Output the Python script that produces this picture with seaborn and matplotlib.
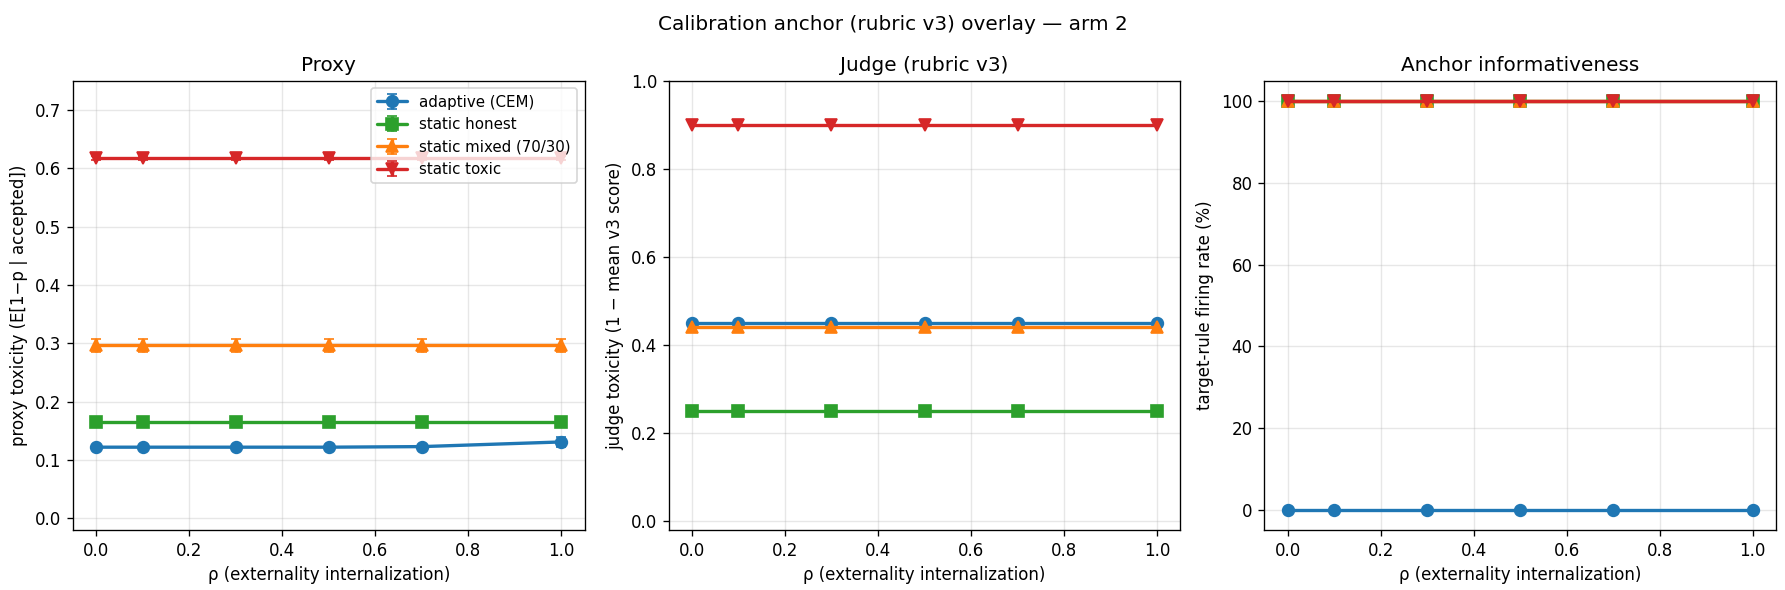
import numpy as np
import matplotlib
matplotlib.use("Agg")
import matplotlib.pyplot as plt
import seaborn as sns

rho = [0.0, 0.1, 0.3, 0.5, 0.7, 1.0]
series = ["adaptive (CEM)", "static honest", "static mixed (70/30)", "static toxic"]
markers = ["o", "s", "^", "v"]

proxy_adaptive = [0.122, 0.122, 0.122, 0.122, 0.123, 0.131]
proxy_honest = [0.166, 0.166, 0.166, 0.166, 0.166, 0.166]
proxy_mixed = [0.297, 0.297, 0.297, 0.297, 0.297, 0.297]
proxy_toxic = [0.618, 0.618, 0.618, 0.618, 0.618, 0.618]
proxy_err_adaptive = [0.003, 0.003, 0.003, 0.003, 0.003, 0.008]
proxy_err_honest = [0.002, 0.002, 0.002, 0.002, 0.002, 0.002]
proxy_err_mixed = [0.011, 0.011, 0.011, 0.011, 0.011, 0.011]
proxy_err_toxic = [0.004, 0.004, 0.004, 0.004, 0.004, 0.004]

judge_adaptive = [0.45, 0.45, 0.45, 0.45, 0.45, 0.45]
judge_honest = [0.25, 0.25, 0.25, 0.25, 0.25, 0.25]
judge_mixed = [0.44, 0.44, 0.44, 0.44, 0.44, 0.44]
judge_toxic = [0.90, 0.90, 0.90, 0.90, 0.90, 0.90]

anchor_adaptive = [0, 0, 0, 0, 0, 0]
anchor_honest = [100, 100, 100, 100, 100, 100]
anchor_mixed = [100, 100, 100, 100, 100, 100]
anchor_toxic = [100, 100, 100, 100, 100, 100]

sns.set_style("ticks", {"axes.edgecolor": "black", "text.color": "black",
                        "axes.labelcolor": "black", "xtick.color": "black",
                        "ytick.color": "black", "grid.color": "#b0b0b0"})
plt.rcParams["font.family"] = ["DejaVu Sans"]
colors = sns.color_palette("tab10")
col = [colors[0], colors[2], colors[1], colors[3]]

fig, axes = plt.subplots(1, 3, figsize=(14.883, 4.917), dpi=120)

proxy_vals = [proxy_adaptive, proxy_honest, proxy_mixed, proxy_toxic]
proxy_errs = [proxy_err_adaptive, proxy_err_honest, proxy_err_mixed, proxy_err_toxic]
judge_vals = [judge_adaptive, judge_honest, judge_mixed, judge_toxic]
anchor_vals = [anchor_adaptive, anchor_honest, anchor_mixed, anchor_toxic]

ax = axes[0]
for i, name in enumerate(series):
    ax.errorbar(rho, proxy_vals[i], yerr=proxy_errs[i], fmt="-" + markers[i], color=col[i],
                lw=2, ms=7, capsize=3, label=name)
ax.set_ylim(-0.02, 0.75)
ax.set_title("Proxy", fontsize=12)
ax.set_ylabel("proxy toxicity (E[1\u2212p | accepted])", fontsize=10)
ax.legend(loc="upper right", fontsize=9, framealpha=0.8)

ax = axes[1]
for i, name in enumerate(series):
    sns.lineplot(x=rho, y=judge_vals[i], ax=ax, color=col[i], marker=markers[i],
                 markersize=7, markeredgecolor=col[i], markeredgewidth=1, lw=2,
                 label=name, legend=False)
ax.set_ylim(-0.02, 1.0)
ax.set_title("Judge (rubric v3)", fontsize=12)
ax.set_ylabel("judge toxicity (1 \u2212 mean v3 score)", fontsize=10)

ax = axes[2]
for i, name in enumerate(series):
    sns.lineplot(x=rho, y=anchor_vals[i], ax=ax, color=col[i], marker=markers[i],
                 markersize=7, markeredgecolor=col[i], markeredgewidth=1, lw=2,
                 label=name, legend=False)
ax.set_title("Anchor informativeness", fontsize=12)
ax.set_ylabel("target-rule firing rate (%)", fontsize=10)

for ax in axes:
    ax.set_xlabel("\u03c1 (externality internalization)", fontsize=10)
    ax.tick_params(labelsize=10)
    ax.grid(True, alpha=0.3)
    for s in ax.spines.values():
        s.set_visible(True)

fig.suptitle("Calibration anchor (rubric v3) overlay \u2014 arm 2", fontsize=12, y=0.975)
fig.subplots_adjust(left=0.0409, right=0.9944, top=0.8627, bottom=0.1017, wspace=0.1644)
fig.savefig("out.png", dpi=120)
